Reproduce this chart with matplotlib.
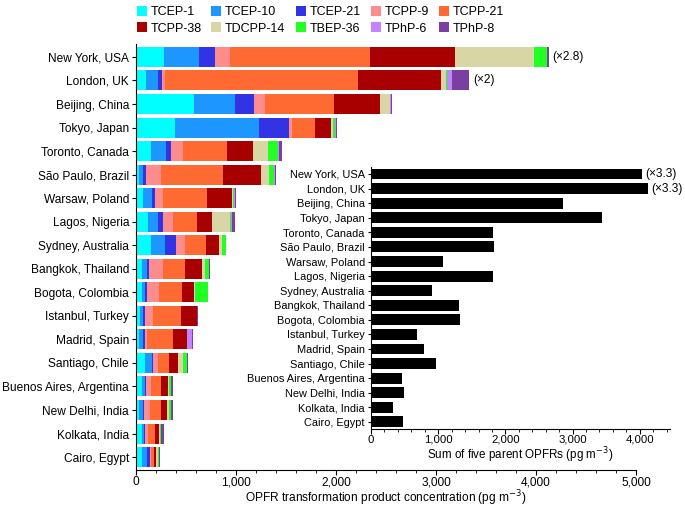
import matplotlib
matplotlib.use("Agg")
import matplotlib.pyplot as plt
import numpy as np
from matplotlib.ticker import MultipleLocator, FuncFormatter

plt.rcParams['font.family'] = ['Liberation Sans', 'DejaVu Sans']

cities = ["New York, USA", "London, UK", "Beijing, China", "Tokyo, Japan",
          "Toronto, Canada", "São Paulo, Brazil", "Warsaw, Poland",
          "Lagos, Nigeria", "Sydney, Australia", "Bangkok, Thailand",
          "Bogota, Colombia", "Istanbul, Turkey", "Madrid, Spain",
          "Santiago, Chile", "Buenos Aires, Argentina", "New Delhi, India",
          "Kolkata, India", "Cairo, Egypt"]

compounds = ["TCEP-1", "TCEP-10", "TCEP-21", "TCPP-9", "TCPP-21",
             "TCPP-38", "TDCPP-14", "TBEP-36", "TPhP-6", "TPhP-8"]

tcep_1 = [283, 100, 577, 387, 147, 30, 73, 117, 147, 57, 57, 40, 33, 90, 57, 33, 57, 57]
tcep_10 = [347, 120, 413, 846, 153, 37, 84, 100, 143, 50, 33, 33, 40, 67, 33, 35, 23, 56]
tcep_21 = [157, 37, 190, 294, 50, 30, 33, 50, 107, 26, 17, 20, 14, 10, 10, 10, 10, 27]
tcpp_9 = [150, 30, 107, 30, 117, 153, 83, 100, 93, 140, 126, 80, 20, 50, 45, 65, 25, 12]
tcpp_21 = [1400, 1936, 690, 230, 440, 623, 434, 240, 210, 220, 224, 274, 260, 117, 105, 107, 73, 30]
tcpp_38 = [853, 827, 460, 163, 266, 377, 253, 156, 133, 164, 126, 160, 146, 83, 65, 60, 37, 17]
tdcpp_14 = [790, 50, 100, 23, 150, 83, 13, 177, 24, 33, 5, 0, 0, 50, 18, 20, 13, 17]
tbep_36 = [133, 13, 5, 14, 97, 47, 10, 5, 40, 37, 130, 0, 0, 47, 20, 23, 10, 13]
tphp_6 = [0, 47, 10, 10, 10, 10, 5, 12, 0, 0, 0, 0, 44, 0, 0, 0, 0, 0]
tphp_8 = [13, 170, 10, 10, 27, 7, 10, 33, 0, 13, 0, 13, 16, 10, 20, 17, 27, 14]

series = [tcep_1, tcep_10, tcep_21, tcpp_9, tcpp_21, tcpp_38,
          tdcpp_14, tbep_36, tphp_6, tphp_8]

colors = ["#00FFFF", "#1E96FF", "#3333E6", "#FF8C8C", "#FF6A33",
          "#A80000", "#D9D6A6", "#22FF22", "#C484FF", "#7A3FA0"]

fold_labels = {0: "(×2.8)", 1: "(×2)"}

parent_sum = [4037, 4126, 2858, 3432, 1823, 1828, 1070, 1813, 906, 1303,
              1322, 683, 783, 961, 456, 495, 332, 480]
parent_fold = {0: "(×3.3)", 1: "(×3.3)"}

fig = plt.figure(figsize=(6.85, 5.08), dpi=100)

# main axes
ax = fig.add_axes([136/685, 1-470/508, 500/685, 426/508])
y = np.arange(len(cities))
left = np.zeros(len(cities))
for vals, col, name in zip(series, colors, compounds):
    ax.barh(y, vals, left=left, height=0.85, color=col, label=name, linewidth=0)
    left += np.array(vals)
for i, t in fold_labels.items():
    ax.text(left[i] + 40, y[i], t, va='center', ha='left', fontsize=8.6)

ax.set_ylim(len(cities) - 1 + 0.55, -0.55)
ax.set_xlim(0, 5000)
ax.set_yticks(y)
ax.set_yticklabels(cities, fontsize=8.6)
ax.xaxis.set_major_locator(MultipleLocator(1000))
ax.xaxis.set_minor_locator(MultipleLocator(200))
ax.xaxis.set_major_formatter(FuncFormatter(lambda v, p: f"{int(v):,}"))
ax.tick_params(axis='x', labelsize=8.6, length=3.5, width=0.8, pad=1)
ax.tick_params(axis='x', which='minor', length=2.2, width=0.6)
ax.tick_params(axis='y', length=3, width=0.8, pad=2)
for s in ['top', 'right']:
    ax.spines[s].set_visible(False)
ax.spines['left'].set_linewidth(0.8)
ax.spines['bottom'].set_linewidth(0.8)
ax.set_xlabel("OPFR transformation product concentration (pg m$^{-3}$)",
              fontsize=8.6, labelpad=0)

# legend (row-major order for 2 rows x 5 columns)
handles, labels = ax.get_legend_handles_labels()
order = [0, 5, 1, 6, 2, 7, 3, 8, 4, 9]
fig.legend([handles[k] for k in order], [labels[k] for k in order],
           loc='upper left', bbox_to_anchor=(129/685, 1.003),
           ncol=5, frameon=False, fontsize=9, handlelength=0.8,
           handleheight=0.8, handletextpad=0.3, columnspacing=0.8,
           labelspacing=0.35, borderaxespad=0.2)

# inset axes
ax2 = fig.add_axes([371/685, 1-428.5/508, 299/685, 261.8/508])
ax2.barh(y, parent_sum, height=0.75, color='black', linewidth=0)
for i, t in parent_fold.items():
    ax2.text(parent_sum[i] + 40, y[i], t, va='center', ha='left', fontsize=8.6)
ax2.set_ylim(len(cities) - 1 + 0.45, -0.5)
ax2.set_xlim(0, 4450)
ax2.set_yticks(y)
ax2.set_yticklabels(cities, fontsize=7.9)
ax2.xaxis.set_major_locator(MultipleLocator(1000))
ax2.xaxis.set_minor_locator(MultipleLocator(200))
ax2.xaxis.set_major_formatter(FuncFormatter(lambda v, p: f"{int(v):,}"))
ax2.tick_params(axis='x', labelsize=8.2, length=3.5, width=0.8, pad=1)
ax2.tick_params(axis='x', which='minor', length=2.2, width=0.6)
ax2.tick_params(axis='y', length=2.5, width=0.8, pad=2)
for s in ['top', 'right']:
    ax2.spines[s].set_visible(False)
ax2.spines['left'].set_linewidth(0.8)
ax2.spines['bottom'].set_linewidth(0.8)
ax2.set_xlabel("Sum of five parent OPFRs (pg m$^{-3}$)", fontsize=8.4, labelpad=0.5)

fig.savefig("out.png", dpi=100)
